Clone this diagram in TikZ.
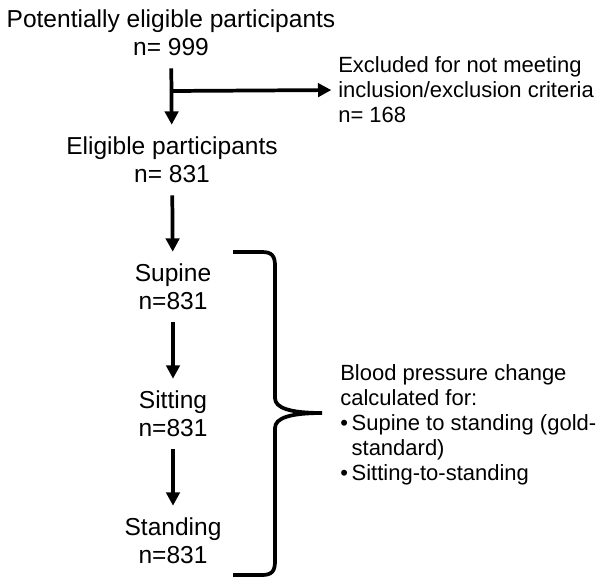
\documentclass[tikz,border=0pt]{standalone}
\usepackage{fontspec}
\setmainfont{Liberation Sans}
\usetikzlibrary{arrows.meta}
\begin{document}
\begin{tikzpicture}[x=0.75pt, y=-0.75pt,
	txt/.style={align=center, inner sep=0pt, font=\fontsize{18.4}{21}\selectfont},
	side/.style={align=left, anchor=west, inner sep=0pt, font=\fontsize{16.5}{18.75}\selectfont},
	flow/.style={line width=2.8pt, shorten <=9pt, shorten >=9pt, -{Triangle[length=10pt, width=10pt]}}]
	\useasboundingbox (0, 0) rectangle (603, 587);
	\node[txt] (pot) at (171, 33) {Potentially eligible participants\\n= 999};
	\node[txt] (elig) at (172, 160) {Eligible participants\\n= 831};
	\node[txt] (sup) at (173, 287) {Supine\\n=831};
	\node[txt] (sit) at (173, 414) {Sitting\\n=831};
	\node[txt] (sta) at (173, 541) {Standing\\n=831};
	\node[side] (excl) at (338, 90) {Excluded for not meeting\\inclusion/exclusion criteria\\n= 168};
	\node[side] (bp) at (340, 425) {Blood pressure change\\calculated for:\\\textbullet\,Supine to standing (gold-\\\phantom{\textbullet\,}standard)\\\textbullet\,Sitting-to-standing};
	\coordinate (split) at (172, 91);
	\draw[flow] (pot) -- (elig);
	\draw[flow, shorten <=0pt, shorten >=5pt] ([xshift=-1.4pt]split) -- (excl.west);
	\draw[flow] (elig) -- (sup);
	\draw[flow] (sup) -- (sit);
	\draw[flow] (sit) -- (sta);
	% brace round the three positions
	\draw[line width=2.8pt] (233, 252) -- (262, 252) .. controls (272, 252) and (275, 256) .. (275, 266) -- (275, 398) .. controls (275, 408) and (290, 413) .. (322, 413) .. controls (290, 413) and (275, 418) .. (275, 428) -- (275, 561) .. controls (275, 571) and (272, 575) .. (262, 575) -- (233, 575);
\end{tikzpicture}
\end{document}
